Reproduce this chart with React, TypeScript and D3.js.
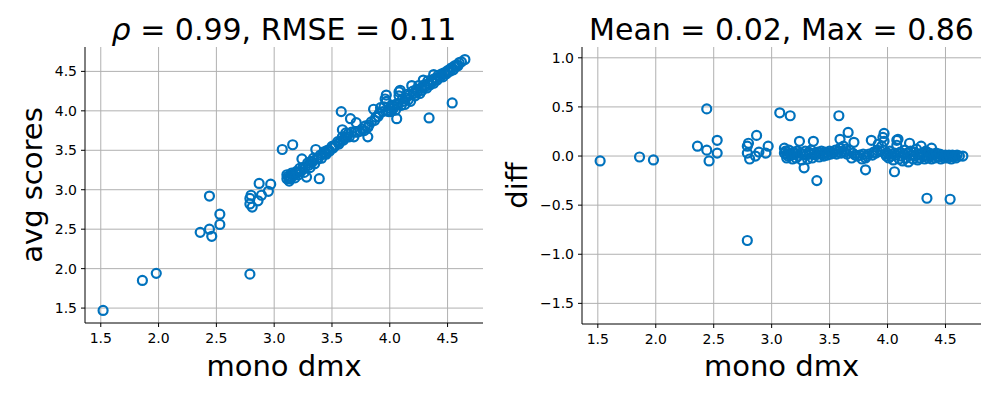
import React from "react";
import * as d3 from "d3";

const width = 997;
const height = 399;
const blue = "#0072bd";

// mono dmx score for each item
const monoDmx = [
  1.52, 1.86, 1.98,
  2.36, 2.44, 2.44, 2.46, 2.53, 2.53,
  2.79, 2.79, 2.80, 2.79, 2.81, 2.87, 2.89, 2.86, 2.95, 2.97,
  3.07, 3.16, 3.11, 3.12, 3.13, 3.11, 3.14, 3.15, 3.13, 3.16, 3.17, 3.18, 3.19, 3.20,
  3.21, 3.22, 3.23, 3.24, 3.25, 3.26, 3.27, 3.28, 3.29, 3.30, 3.31, 3.32,
  3.33, 3.34, 3.35, 3.36, 3.37, 3.38, 3.39, 3.40, 3.41, 3.42, 3.43, 3.44, 3.45, 3.46,
  3.47, 3.48, 3.50, 3.51, 3.52, 3.53, 3.55, 3.56, 3.57, 3.58, 3.59, 3.59, 3.60,
  3.61, 3.62, 3.63, 3.64, 3.66, 3.65, 3.67, 3.69, 3.70, 3.71, 3.72, 3.74, 3.76, 3.78,
  3.79, 3.81, 3.81, 3.82, 3.84, 3.86, 3.87, 3.88, 3.90, 3.91, 3.92, 3.94, 3.95, 3.96,
  3.97, 3.97, 3.98, 3.99,
  4.00, 4.01, 4.02, 4.03, 4.04, 4.05, 4.06, 4.06, 4.07, 4.08, 4.08, 4.09, 4.10, 4.11,
  4.12, 4.13, 4.14, 4.15, 4.16, 4.17, 4.18, 4.19, 4.20, 4.21, 4.22, 4.23, 4.24, 4.25,
  4.26, 4.27, 4.28, 4.29, 4.30, 4.31, 4.32, 4.33, 4.34, 4.34, 4.35, 4.36, 4.37, 4.38,
  4.38, 4.39, 4.40, 4.41, 4.42, 4.43, 4.44, 4.45, 4.46, 4.47, 4.48, 4.49, 4.50, 4.51,
  4.52, 4.53, 4.54, 4.54, 4.55, 4.56, 4.57, 4.58, 4.59, 4.60, 4.62, 4.65,
];

// avg scores minus mono dmx
const diffScores = [
  -0.05, -0.01, -0.04,
  0.10, 0.48, 0.06, -0.05, 0.16, 0.03,
  -0.86, 0.10, 0.13, 0.03, -0.03, 0.21, 0.04, 0.00, 0.03, 0.10,
  0.44, 0.41, 0.08, 0.05, 0.02, 0.03, 0.00, 0.06, -0.02, 0.03, 0.01, -0.03, 0.04, 0.02,
  -0.02, 0.05, 0.00, 0.15, 0.03, -0.04, 0.02, -0.12, 0.05, 0.01, -0.03, 0.04,
  0.02, 0.06, -0.02, 0.15, 0.03, 0.01, -0.25, 0.04, -0.01, 0.03, 0.05, 0.02, 0.00, 0.04,
  0.03, 0.01, 0.05, 0.02, 0.04, 0.03, 0.06, 0.02, 0.04, 0.41, 0.17, 0.08, 0.03,
  0.05, 0.10, 0.04, 0.07, 0.24, 0.02, 0.06, -0.02, 0.03, 0.14, 0.01, 0.00, 0.01, -0.03,
  0.02, -0.14, -0.02, 0.00, 0.02, 0.16, 0.01, 0.04, 0.03, 0.06, 0.12, 0.05, 0.10, 0.19,
  0.23, 0.15, 0.02, 0.00,
  0.03, -0.02, 0.05, 0.00, 0.02, -0.04, -0.16, 0.03, 0.01, 0.16, 0.11, 0.17, -0.03, 0.04,
  0.00, -0.05, 0.02, 0.06, -0.02, 0.03, -0.06, 0.13, 0.05, 0.01, -0.03, 0.04, 0.00, 0.07,
  -0.04, 0.02, -0.02, 0.10, 0.03, 0.00, -0.03, 0.05, -0.43, 0.01, -0.02, 0.03, 0.00, 0.08,
  -0.03, 0.02, 0.01, -0.02, 0.03, 0.00, -0.01, 0.02, -0.03, 0.01, 0.00, -0.02, 0.01, 0.00,
  -0.02, 0.01, -0.44, 0.00, -0.03, 0.01, -0.01, 0.00, -0.02, 0.01, 0.00, 0.00,
];

const avgScores = monoDmx.map((m, i) => +(m + diffScores[i]).toFixed(2));

const xTicks = [1.5, 2.0, 2.5, 3.0, 3.5, 4.0, 4.5];
const avgTicks = [1.5, 2.0, 2.5, 3.0, 3.5, 4.0, 4.5];
const diffTicks = [-1.5, -1.0, -0.5, 0.0, 0.5, 1.0];
const diffDomain = [-1.71, 1.11];

const font = "DejaVu Sans, sans-serif";

// matplotlib style 5% padding
function padded(values: number[]) {
  const [lo, hi] = d3.extent(values) as [number, number];
  const m = (hi - lo) * 0.05;
  return [lo - m, hi + m];
}

const fmt = (v: number) => d3.format(".1f")(v).replace("-", "\u2212");

const leftTitle = (
  <>
    <tspan fontStyle="italic">{"\u03c1"}</tspan>
    {" = 0.99, RMSE = 0.11"}
  </>
);
const rightTitle = "Mean = 0.02, Max = 0.86";

function Panel(props: any) {
  const { box, xDomain, yDomain, yTicks, ys, title, ylabel } = props;
  const xScale = d3.scaleLinear().domain(xDomain).range([box.left, box.right]);
  const yScale = d3.scaleLinear().domain(yDomain).range([box.bottom, box.top]);
  const cx = (box.left + box.right) / 2;
  const cy = (box.top + box.bottom) / 2;
  return (
    <g fontFamily={font}>
      {xTicks.map((t) => (
        <line key={"gx" + t} x1={xScale(t)} x2={xScale(t)} y1={box.top} y2={box.bottom}
          stroke="#b0b0b0" strokeWidth={1} />
      ))}
      {yTicks.map((t: number) => (
        <line key={"gy" + t} x1={box.left} x2={box.right} y1={yScale(t)} y2={yScale(t)}
          stroke="#b0b0b0" strokeWidth={1} />
      ))}
      {monoDmx.map((m, i) => (
        <circle key={i} cx={xScale(m)} cy={yScale(ys[i])} r={4.5}
          fill="none" stroke={blue} strokeWidth={2.2} />
      ))}
      <line x1={box.left} x2={box.left} y1={box.top} y2={box.bottom} stroke="#000" strokeWidth={1} />
      <line x1={box.left} x2={box.right} y1={box.bottom} y2={box.bottom} stroke="#000" strokeWidth={1} />
      {xTicks.map((t) => (
        <g key={"tx" + t}>
          <line x1={xScale(t)} x2={xScale(t)} y1={box.bottom} y2={box.bottom + 4} stroke="#000" />
          <text x={xScale(t)} y={box.bottom + 20} fontSize={14} textAnchor="middle">{fmt(t)}</text>
        </g>
      ))}
      {yTicks.map((t: number) => (
        <g key={"ty" + t}>
          <line x1={box.left - 4} x2={box.left} y1={yScale(t)} y2={yScale(t)} stroke="#000" />
          <text x={box.left - 8} y={yScale(t) + 5} fontSize={14} textAnchor="end">{fmt(t)}</text>
        </g>
      ))}
      <text x={cx} y={40} fontSize={30} textAnchor="middle">{title}</text>
      <text x={cx} y={376} fontSize={29} textAnchor="middle">mono dmx</text>
      <text transform={`translate(${box.labelX},${cy}) rotate(-90)`} fontSize={29} textAnchor="middle">{ylabel}</text>
    </g>
  );
}

export default function App() {
  const xDomain = padded(monoDmx);
  return (
    <svg width={width} height={height}
      style={{ position: "absolute", left: 0, top: 0, display: "block", background: "#fff" }}>
      <Panel box={{ left: 85, right: 483, top: 47, bottom: 323, labelX: 42 }}
        xDomain={xDomain} yDomain={padded(avgScores)} yTicks={avgTicks}
        ys={avgScores} title={leftTitle} ylabel="avg scores" />
      <Panel box={{ left: 582, right: 981, top: 47, bottom: 324, labelX: 527 }}
        xDomain={xDomain} yDomain={diffDomain} yTicks={diffTicks}
        ys={diffScores} title={rightTitle} ylabel="diff" />
    </svg>
  );
}
